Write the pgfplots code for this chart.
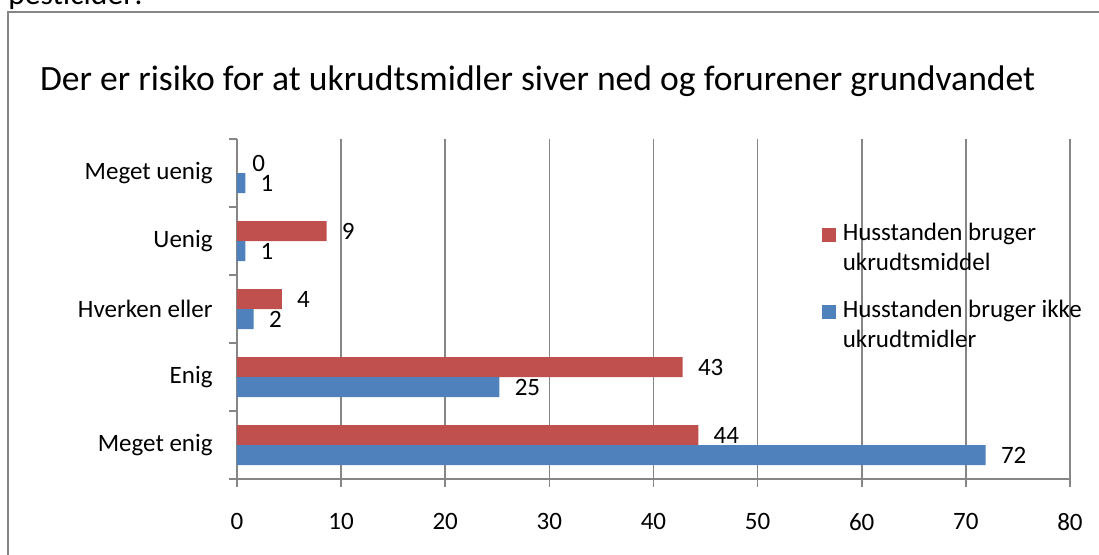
\documentclass[border=0pt]{standalone}
\usepackage{pgfplots}
\usepackage{pgfplotstable}
\pgfplotsset{compat=1.18}
\usepackage{fontspec}
\setmainfont{Carlito}
\definecolor{cred}{RGB}{192,80,77}
\definecolor{cblue}{RGB}{79,129,189}
\definecolor{gridgray}{RGB}{134,134,134}

\pgfplotstableread{
y x lab
0 44.3 44
1 42.8 43
2 4.3 4
3 8.6 9
4 0 0
}\reddata
\pgfplotstableread{
y x lab
0 71.9 72
1 25.2 25
2 1.6 2
3 0.8 1
4 0.8 1
}\bluedata

\newcommand{\lbl}{\fontsize{12.5}{15}\selectfont}

\begin{document}
\begin{tikzpicture}
\begin{axis}[
  at={(0,0)}, anchor=south west,
  scale only axis, width=416.5pt, height=170pt,
  xbar, bar width=10pt,
  xmin=0, xmax=80, ymin=-0.5, ymax=4.5,
  xtick={0,10,...,80},
  ytick={-0.5,0.5,1.5,2.5,3.5,4.5},
  yticklabels={},
  extra y ticks={0,1,2,3,4},
  extra y tick labels={Meget enig,Enig,Hverken eller,Uenig,Meget uenig},
  extra y tick style={major tick length=0pt,
     yticklabel style={anchor=east, inner sep=0pt, xshift=-12pt, font=\lbl}},
  axis x line*=bottom, axis y line*=left,
  axis line style={gridgray, line width=0.8pt, -},
  xmajorgrids, major grid style={gridgray, line width=0.8pt},
  tick align=outside,
  tick style={gridgray, line width=0.8pt},
  major tick length=4pt,
  /pgf/number format/assume math mode=true,
  xticklabel style={anchor=north, inner sep=0pt, yshift=-13pt, font=\lbl},
  point meta=explicit symbolic,
  nodes near coords={\pgfplotspointmeta},
  every node near coord/.append style={anchor=west, inner sep=0pt, xshift=7.5pt, font=\lbl, text=black},
  legend image code/.code={\fill[#1,draw=none] (0pt,3.3pt) rectangle (7pt,10.3pt);},
  legend cell align=left,
  legend style={draw=none, fill=none, at={(0.702,0.753)}, anchor=north west,
     inner sep=0pt, outer sep=0pt, column sep=3.5pt, row sep=13.5pt,
     align=left, font=\lbl, nodes={inner sep=0pt}},
]
\addplot[fill=cred, draw=none, bar shift=5pt] table[x=x, y=y, meta=lab] {\reddata};
\addlegendentry{Husstanden bruger\\ukrudtsmiddel}
\addplot[fill=cblue, draw=none, bar shift=-5pt] table[x=x, y=y, meta=lab] {\bluedata};
\addlegendentry{Husstanden bruger ikke\\ukrudtmidler}
\end{axis}
\node[anchor=base, inner sep=0pt, font=\fontsize{17.8}{21}\selectfont] at (150.3pt,194.2pt)
  {Der er risiko for at ukrudtsmidler siver ned og forurener grundvandet};
\node[anchor=base west, inner sep=0pt, font=\fontsize{15.8}{19}\selectfont] at (-114.5pt,237.5pt) {pesticider:};
\draw[gridgray, line width=1pt] (-114.5pt,-45pt) -- (-114.5pt,233.5pt) -- (440pt,233.5pt);
\pgfresetboundingbox
\useasboundingbox (-118.5pt,-37.5pt) rectangle (431pt,239.5pt);
\end{tikzpicture}
\end{document}
